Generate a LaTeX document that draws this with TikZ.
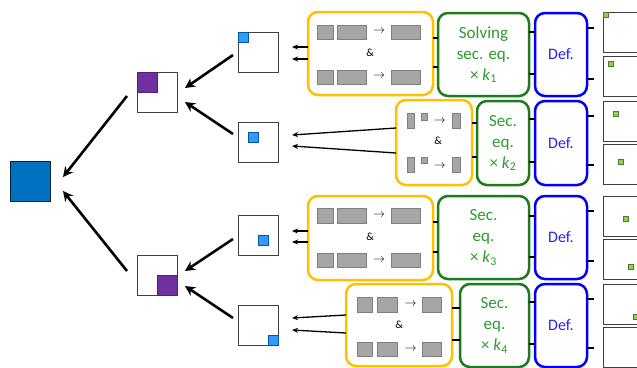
\documentclass[tikz,border=0pt]{standalone}
\usepackage{fontspec}
\setmainfont{Carlito}
\usetikzlibrary{arrows.meta}
\definecolor{rootblue}{HTML}{0070C0}
\definecolor{purp}{HTML}{7030A0}
\definecolor{lblue}{HTML}{3399FF}
\definecolor{ygold}{HTML}{FFC000}
\definecolor{gborder}{HTML}{1E7B1E}
\definecolor{gtext}{HTML}{2E9B2E}
\definecolor{bblue}{HTML}{0000FF}
\definecolor{btext}{HTML}{2424F0}
\definecolor{grayfill}{HTML}{A6A6A6}
\definecolor{graydraw}{HTML}{7F7F7F}
\definecolor{lgreen}{HTML}{92D050}
\definecolor{dgreen}{HTML}{4F7A28}
\newcommand{\rectnode}[6]{\node[#1, minimum width={(#4-#2)*1pt}, minimum height={(#5-#3)*1pt}] (#6) at ({(#2+#4)/2},{(#3+#5)/2}) {};}
\newcommand{\txtnode}[5]{\node[#1, minimum width={(#4-#2)*1pt}, minimum height={(#5-#3)*1pt}] at ({(#2+#4)/2},{(#3+#5)/2})}
\begin{document}
\begin{tikzpicture}[x=1pt,y=-1pt,
  sq/.style={draw, inner sep=0pt, outer sep=0pt},
  frame/.style={sq, draw=black!75, line width=1pt, fill=white},
  rootsq/.style={sq, draw=black!70!rootblue, line width=0.8pt, fill=rootblue},
  purpsq/.style={sq, draw=purp!70!black, line width=0.6pt, fill=purp},
  bluesq/.style={sq, draw=rootblue!80!black, line width=0.8pt, fill=lblue},
  grnsq/.style={sq, draw=dgreen, line width=0.8pt, fill=lgreen},
  grayrect/.style={sq, draw=graydraw, line width=0.8pt, fill=grayfill},
  ybox/.style={sq, draw=ygold, line width=2.5pt, rounded corners=10pt},
  gbox/.style={sq, draw=gborder, line width=2.5pt, rounded corners=10pt, text=gtext, align=center, font=\fontsize{17}{21}\selectfont},
  bbox/.style={sq, draw=bblue, line width=2.5pt, rounded corners=10pt, text=btext, align=center, font=\fontsize{16}{20}\selectfont},
  amp/.style={inner sep=0pt, font=\fontsize{11}{13}\selectfont},
  sym/.style={inner sep=0pt, font=\fontsize{12}{13}\selectfont},
  bigarrow/.style={line width=2.6pt, -{Stealth[length=10pt,width=10pt]}},
  thinarrow/.style={line width=1.3pt, -{Stealth[length=6pt,width=5pt]}},
  link/.style={line width=1.4pt}
]
\useasboundingbox (0,0) rectangle (637,367);
\clip (0,0) rectangle (637,367);

% root
\rectnode{rootsq}{10}{161}{50}{201}{root}
% level 1
\rectnode{frame}{137}{72}{177}{112}{la}
\rectnode{purpsq}{137}{72}{157}{92}{lap}
\rectnode{frame}{137}{255}{177}{295}{lb}
\rectnode{purpsq}{157}{275}{177}{295}{lbp}
% level 2
\rectnode{frame}{238}{32}{278}{72}{ma}
\rectnode{bluesq}{238}{32}{248}{42}{map}
\rectnode{frame}{238}{122}{278}{162}{mb}
\rectnode{bluesq}{248}{132}{258}{142}{mbp}
\rectnode{frame}{238}{215}{278}{255}{mc}
\rectnode{bluesq}{258}{235}{268}{245}{mcp}
\rectnode{frame}{238}{305}{278}{345}{md}
\rectnode{bluesq}{268}{335}{278}{345}{mdp}

% big arrows
\draw[bigarrow] ([shift={(-30,4)}]la.center) -- ([shift={(33,-4)}]root.center);
\draw[bigarrow] ([shift={(-30,-4)}]lb.center) -- ([shift={(33,10)}]root.center);
\draw[bigarrow] ([shift={(-25,3)}]ma.center) -- ([shift={(28,-4)}]la.center);
\draw[bigarrow] ([shift={(-25,-8)}]mb.center) -- ([shift={(28,10)}]la.center);
\draw[bigarrow] ([shift={(-25,4)}]mc.center) -- ([shift={(28,-4)}]lb.center);
\draw[bigarrow] ([shift={(-25,-7)}]md.center) -- ([shift={(28,11)}]lb.center);

% yellow boxes
\rectnode{ybox}{308}{12}{433}{95}{ya}
\rectnode{ybox}{396}{100}{472}{185}{yb}
\rectnode{ybox}{308}{196}{433}{280}{yc}
\rectnode{ybox}{346}{284}{452}{366}{yd}

% contents A
\rectnode{grayrect}{317}{25}{333}{39}{a1}
\rectnode{grayrect}{337}{25}{366}{39}{a2}
\node[sym] at (379,31) {$\rightarrow$};
\rectnode{grayrect}{391}{25}{420}{39}{a3}
\node[amp] at (370,53) {\&};
\rectnode{grayrect}{317}{70}{333}{84}{a4}
\rectnode{grayrect}{337}{70}{366}{84}{a5}
\node[sym] at (379,76) {$\rightarrow$};
\rectnode{grayrect}{391}{70}{420}{84}{a6}
% contents C
\rectnode{grayrect}{317}{208}{333}{223}{c1}
\rectnode{grayrect}{337}{208}{366}{223}{c2}
\node[sym] at (379,215) {$\rightarrow$};
\rectnode{grayrect}{391}{208}{420}{223}{c3}
\node[amp] at (370,237) {\&};
\rectnode{grayrect}{317}{253}{333}{267}{c4}
\rectnode{grayrect}{337}{253}{366}{267}{c5}
\node[sym] at (379,260) {$\rightarrow$};
\rectnode{grayrect}{391}{253}{420}{267}{c6}
% contents B
\rectnode{grayrect}{407}{113}{414}{128}{b1}
\rectnode{grayrect}{421}{113}{427}{120}{b2}
\node[sym] at (439.5,121) {$\rightarrow$};
\rectnode{grayrect}{452}{113}{460}{128}{b3}
\node[amp] at (438,141) {\&};
\rectnode{grayrect}{407}{157}{414}{172}{b4}
\rectnode{grayrect}{421}{157}{427}{163}{b5}
\node[sym] at (439.5,166) {$\rightarrow$};
\rectnode{grayrect}{452}{157}{460}{172}{b6}
% contents D
\rectnode{grayrect}{357}{297}{372}{312}{d1}
\rectnode{grayrect}{377}{297}{397}{312}{d2}
\node[sym] at (410.5,304) {$\rightarrow$};
\rectnode{grayrect}{422}{297}{441}{312}{d3}
\node[amp] at (399,325) {\&};
\rectnode{grayrect}{357}{342}{372}{356}{d4}
\rectnode{grayrect}{377}{342}{397}{356}{d5}
\node[sym] at (410.5,349) {$\rightarrow$};
\rectnode{grayrect}{422}{342}{441}{356}{d6}

% thin arrows yellow -> level 2
\draw[thinarrow] (ya.west |- 0,47) -- ([shift={(34,-5)}]ma.center);
\draw[thinarrow] (ya.west |- 0,59) -- ([shift={(34,7)}]ma.center);
\draw[thinarrow] (yb.west |- 0,128) -- ([shift={(34,-7)}]mb.center);
\draw[thinarrow] (yb.west |- 0,153) -- ([shift={(34,4)}]mb.center);
\draw[thinarrow] (yc.west |- 0,231) -- ([shift={(34,-4)}]mc.center);
\draw[thinarrow] (yc.west |- 0,242) -- ([shift={(34,7)}]mc.center);
\draw[thinarrow] (yd.west |- 0,315) -- ([shift={(34,-7)}]md.center);
\draw[thinarrow] (yd.west |- 0,333) -- ([shift={(34,5)}]md.center);

% green boxes
\txtnode{gbox}{438}{13}{529}{96} (ga) {Solving\\sec. eq.\\× \textit{k}\textsubscript{1}};
\txtnode{gbox}{477}{101}{529}{185} (gb) {Sec.\\eq.\\× \textit{k}\textsubscript{2}};
\txtnode{gbox}{438}{196}{529}{279} (gc) {Sec.\\eq.\\× \textit{k}\textsubscript{3}};
\txtnode{gbox}{460}{284}{529}{367} (gd) {Sec.\\eq.\\× \textit{k}\textsubscript{4}};

% blue boxes
\txtnode{bbox}{535}{13}{587}{96} (ba) {Def.};
\txtnode{bbox}{535}{101}{587}{185} (bb) {Def.};
\txtnode{bbox}{535}{196}{587}{279} (bc) {Def.};
\txtnode{bbox}{535}{284}{587}{367} (bd) {Def.};

% links yellow -> green
\draw[link] (ya.east |- 0,38) -- (ga.west |- 0,38);
\draw[link] (ya.east |- 0,67) -- (ga.west |- 0,67);
\draw[link] (yb.east |- 0,123) -- (gb.west |- 0,123);
\draw[link] (yb.east |- 0,157) -- (gb.west |- 0,157);
\draw[link] (yc.east |- 0,222) -- (gc.west |- 0,222);
\draw[link] (yc.east |- 0,252) -- (gc.west |- 0,252);
\draw[link] (yd.east |- 0,308) -- (gd.west |- 0,308);
\draw[link] (yd.east |- 0,340) -- (gd.west |- 0,340);
% links green -> blue
\draw[link] (ga.east |- 0,32) -- (ba.west |- 0,32);
\draw[link] (ga.east |- 0,74) -- (ba.west |- 0,74);
\draw[link] (gb.east |- 0,119) -- (bb.west |- 0,119);
\draw[link] (gb.east |- 0,162) -- (bb.west |- 0,162);
\draw[link] (gc.east |- 0,216) -- (bc.west |- 0,216);
\draw[link] (gc.east |- 0,257) -- (bc.west |- 0,257);
\draw[link] (gd.east |- 0,302) -- (bd.west |- 0,302);
\draw[link] (gd.east |- 0,344) -- (bd.west |- 0,344);

% right column
\rectnode{frame}{603}{12}{643}{52}{r1}
\rectnode{frame}{603}{56}{643}{96}{r2}
\rectnode{frame}{603}{101}{643}{141}{r3}
\rectnode{frame}{603}{144}{643}{184}{r4}
\rectnode{frame}{603}{196}{643}{236}{r5}
\rectnode{frame}{603}{239}{643}{279}{r6}
\rectnode{frame}{603}{284}{643}{324}{r7}
\rectnode{frame}{603}{327}{643}{367}{r8}
\rectnode{grnsq}{603}{12}{608}{17}{s1}
\rectnode{grnsq}{608}{61}{613}{66}{s2}
\rectnode{grnsq}{613}{111}{618}{116}{s3}
\rectnode{grnsq}{618}{159}{623}{164}{s4}
\rectnode{grnsq}{623}{216}{628}{221}{s5}
\rectnode{grnsq}{628}{264}{633}{269}{s6}
\rectnode{grnsq}{633}{314}{638}{319}{s7}

% links blue -> right
\draw[link] (ba.east |- 0,28) -- ([xshift=-9pt]r1.west |- 0,28);
\draw[link] (ba.east |- 0,79) -- ([xshift=-9pt]r2.west |- 0,79);
\draw[link] (bb.east |- 0,116) -- ([xshift=-9pt]r3.west |- 0,116);
\draw[link] (bb.east |- 0,165) -- ([xshift=-9pt]r4.west |- 0,165);
\draw[link] (bc.east |- 0,211) -- ([xshift=-9pt]r5.west |- 0,211);
\draw[link] (bc.east |- 0,261) -- ([xshift=-9pt]r6.west |- 0,261);
\draw[link] (bd.east |- 0,299) -- ([xshift=-9pt]r7.west |- 0,299);
\draw[link] (bd.east |- 0,348) -- ([xshift=-9pt]r8.west |- 0,348);
\end{tikzpicture}
\end{document}
